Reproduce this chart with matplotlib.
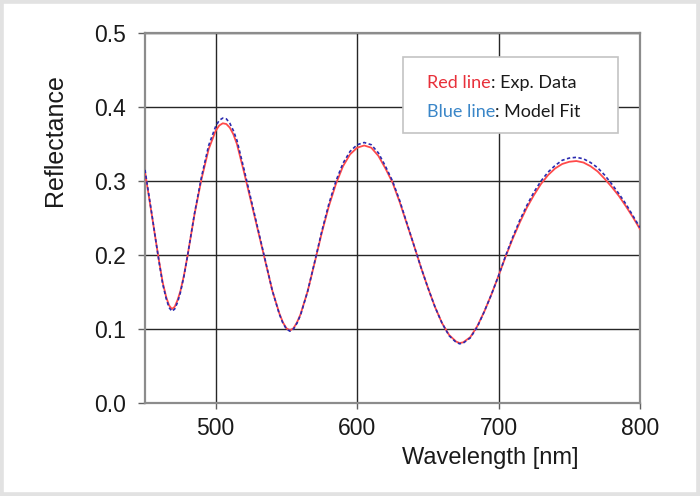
import matplotlib
matplotlib.use("Agg")
import matplotlib.pyplot as plt
from matplotlib.patches import Rectangle
from matplotlib.text import Annotation

wavelength = [450, 452.5, 455, 457.5, 460, 462.5, 465, 467, 469, 471,
              473, 475, 477.5, 480, 485, 490, 495, 500, 502.5, 505,
              507.5, 510, 512.5, 515, 520, 525, 530, 535, 540, 545,
              547.5, 550, 552.5, 555, 557.5, 560, 565, 570, 575, 580,
              585, 590, 595, 600, 605, 610, 615, 620, 625, 630,
              635, 640, 645, 650, 655, 660, 665, 670, 672.5, 675,
              680, 685, 690, 695, 700, 705, 710, 715, 720, 725,
              730, 735, 740, 745, 750, 755, 760, 765, 770, 775,
              780, 785, 790, 795, 800]

exp_data = [0.312, 0.282, 0.252, 0.221, 0.191, 0.163, 0.143, 0.132, 0.127, 0.130,
            0.139, 0.151, 0.172, 0.198, 0.255, 0.303, 0.343, 0.368, 0.375, 0.378,
            0.377, 0.372, 0.363, 0.350, 0.312, 0.272, 0.232, 0.192, 0.152, 0.121,
            0.109, 0.101, 0.098, 0.101, 0.109, 0.120, 0.151, 0.190, 0.230, 0.266,
            0.296, 0.320, 0.336, 0.345, 0.348, 0.345, 0.334, 0.317, 0.298, 0.272,
            0.243, 0.214, 0.184, 0.156, 0.130, 0.108, 0.092, 0.083, 0.081, 0.082,
            0.089, 0.104, 0.124, 0.147, 0.172, 0.198, 0.222, 0.244, 0.264, 0.281,
            0.296, 0.308, 0.317, 0.323, 0.326, 0.327, 0.325, 0.320, 0.313, 0.303,
            0.292, 0.280, 0.266, 0.251, 0.235]

model_fit = [0.315, 0.284, 0.253, 0.221, 0.190, 0.161, 0.141, 0.129, 0.124, 0.127,
             0.136, 0.149, 0.171, 0.198, 0.256, 0.306, 0.348, 0.374, 0.382, 0.385,
             0.384, 0.378, 0.368, 0.355, 0.316, 0.275, 0.234, 0.193, 0.152, 0.120,
             0.108, 0.100, 0.097, 0.100, 0.108, 0.119, 0.151, 0.191, 0.232, 0.269,
             0.300, 0.324, 0.340, 0.349, 0.352, 0.349, 0.338, 0.320, 0.300, 0.274,
             0.244, 0.214, 0.184, 0.156, 0.130, 0.108, 0.091, 0.082, 0.080, 0.081,
             0.088, 0.103, 0.124, 0.147, 0.172, 0.199, 0.224, 0.247, 0.267, 0.285,
             0.300, 0.312, 0.321, 0.328, 0.331, 0.332, 0.330, 0.325, 0.318, 0.308,
             0.296, 0.283, 0.269, 0.253, 0.237]

x_ticks = [500, 600, 700, 800]
y_ticks = [0.0, 0.1, 0.2, 0.3, 0.4, 0.5]

plt.rcParams['font.family'] = ['Liberation Sans', 'DejaVu Sans']

fig = plt.figure(figsize=(7, 4.96), dpi=100)
ax = fig.add_axes([145/700, 1-403/496, 495/700, 370/496])

ax.plot(wavelength, exp_data, color='#ff4a4a', lw=1.3, zorder=3)
ax.plot(wavelength, model_fit, color='#2b2bb0', lw=1.2, dashes=(2.0, 1.5), zorder=4)

ax.set_xlim(450, 800)
ax.set_ylim(0, 0.5)
ax.set_xticks(x_ticks)
ax.set_yticks(y_ticks)
ax.set_xticklabels([str(t) for t in x_ticks])
ax.set_yticklabels([f"{t:.1f}" for t in y_ticks])
ax.grid(True, color='#262626', lw=1.0)
ax.set_axisbelow(True)
for s in ax.spines.values():
    s.set_color('#8c8c8c')
    s.set_linewidth(1.6)
ax.tick_params(axis='both', width=1.0, color='#606060', labelsize=16.5,
               labelcolor='#1a1a1a')
ax.tick_params(axis='x', length=4, pad=6)
ax.tick_params(axis='y', length=5, pad=9)

fig.text(55/700, 1-140/496, "Reflectance", rotation=90, ha='center', va='center',
         fontsize=18, color='#1a1a1a')
fig.text(490/700, 1-458/496, "Wavelength [nm]", ha='center', va='center',
         fontsize=17, color='#1a1a1a')

# legend box
box = Rectangle((403/700, 1-133/496), 215/700, 76/496, transform=fig.transFigure,
                facecolor='white', edgecolor='#c4c4c4', lw=1.2, zorder=5)
fig.patches.append(box)
fs = 13
lfam = ['Lato', 'DejaVu Sans']
t1 = fig.text(427/700, 1-83/496, "Red line", color='#e8303a', fontsize=fs,
              family=lfam, va='center', ha='left', zorder=6)
a1 = Annotation(": Exp. Data", xy=(1, 0), xycoords=t1, va='bottom', ha='left',
                color='#1a1a1a', fontsize=fs, family=lfam, zorder=6)
fig.add_artist(a1)
t2 = fig.text(427/700, 1-112/496, "Blue line", color='#3a86c8', fontsize=fs,
              family=lfam, va='center', ha='left', zorder=6)
a2 = Annotation(": Model Fit", xy=(1, 0), xycoords=t2, va='bottom', ha='left',
                color='#1a1a1a', fontsize=fs, family=lfam, zorder=6)
fig.add_artist(a2)

# outer frame
frame = Rectangle((0, 0), 1, 1, transform=fig.transFigure, fill=False,
                  edgecolor='#e2e2e2', lw=5.5, zorder=10)
fig.patches.append(frame)

fig.savefig("out.png", dpi=100)
